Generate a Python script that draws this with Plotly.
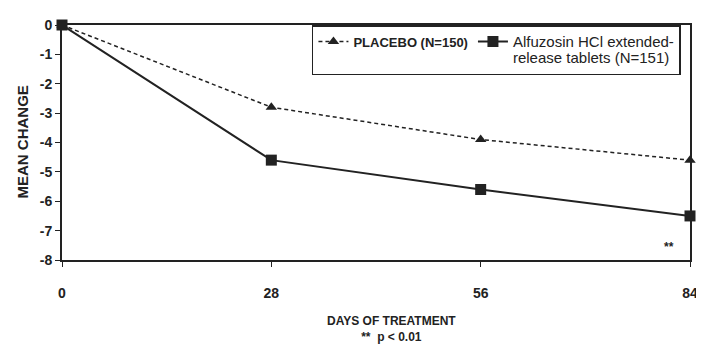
import plotly.graph_objects as go

days = [0, 28, 56, 84]
tick_labels = ["0", "28", "56", "84"]
y_ticks = [0, -1, -2, -3, -4, -5, -6, -7, -8]
placebo = [0, -2.8, -3.9, -4.6]
alfuzosin = [0, -4.6, -5.6, -6.5]

ink = "#222222"
font = "Liberation Sans, Arial, sans-serif"

fig = go.Figure()
fig.add_trace(go.Scatter(
    x=days, y=placebo, mode="lines+markers",
    name="<b>PLACEBO (N=150)</b>",
    line=dict(color=ink, width=1.5, dash="4px,3px"),
    marker=dict(symbol="triangle-up", size=10, color=ink),
    cliponaxis=False,
))
fig.add_trace(go.Scatter(
    x=days, y=alfuzosin, mode="lines+markers",
    name="<span style='font-size:15px'>Alfuzosin HCl extended-<br>release tablets (N=151)</span>",
    line=dict(color=ink, width=2),
    marker=dict(symbol="square", size=11, color=ink),
    cliponaxis=False,
))

fig.add_annotation(x=84, y=-7.55, xref="x", yref="y", text="<b>**</b>",
                   showarrow=False, xanchor="right", xshift=-14,
                   font=dict(size=12, color=ink, family=font))
fig.add_annotation(x=0.524, y=-0.22, xref="paper", yref="paper",
                   text="<b>DAYS OF TREATMENT</b><br><b>**  p < 0.01</b>",
                   showarrow=False, xanchor="center", yanchor="top",
                   font=dict(size=12, color=ink, family=font))
fig.add_annotation(x=(22 - 62) / 628, y=0.5, xref="paper", yref="paper", xanchor="center",
                   text="<b>MEAN CHANGE</b>", textangle=-90, showarrow=False,
                   font=dict(size=15, color=ink, family=font))

fig.update_layout(
    width=696, height=350,
    margin=dict(l=54, r=14, t=17, b=98),
    paper_bgcolor="white", plot_bgcolor="white",
    font=dict(family=font, size=12, color=ink),
    showlegend=True,
    legend=dict(
        x=0.398, y=1.0, xanchor="left", yanchor="top",
        orientation="h", bordercolor=ink, borderwidth=1.5,
        bgcolor="white", font=dict(size=13, color=ink, family=font),
        itemwidth=30, tracegroupgap=0, valign="top",
    ),
    xaxis=dict(
        range=[0, 84], tickvals=days, ticktext=[f"<b>{t}</b>" for t in tick_labels],
        showgrid=False, zeroline=False, showline=True, linecolor=ink, linewidth=2,
        mirror=True, ticks="outside", ticklen=5, tickcolor=ink, automargin=False,
        ticklabelstandoff=14,
        tickfont=dict(size=14, family=font, color=ink),
    ),
    yaxis=dict(
        range=[-8, 0], showgrid=False, zeroline=False,
        showline=True, linecolor=ink, linewidth=2, mirror=True,
        ticks="outside", ticklen=5, tickcolor=ink, automargin=False,
        tickvals=y_ticks,
        ticktext=[f"<b>{v}</b>" for v in y_ticks],
        tickfont=dict(size=14, family=font, color=ink),
    ),
)

fig.write_html("out.html")
